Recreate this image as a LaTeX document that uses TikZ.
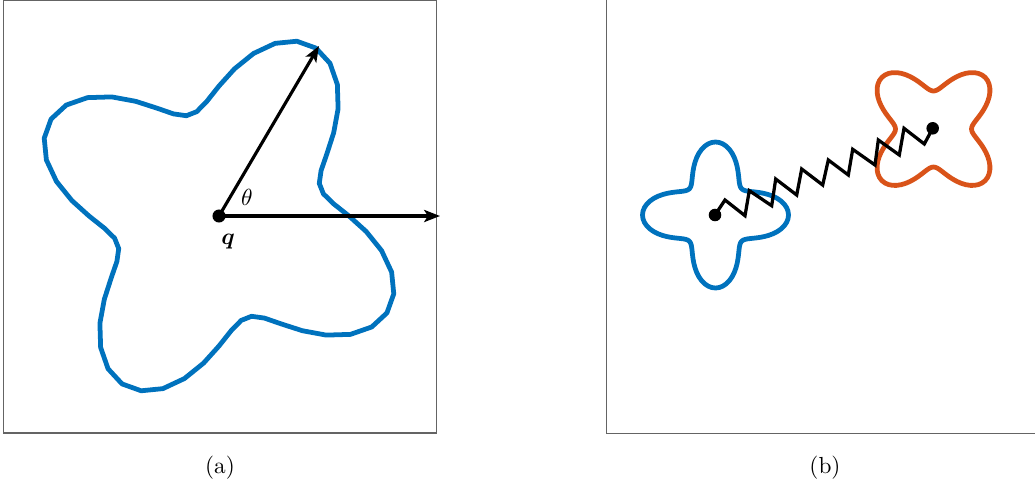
\documentclass[tikz,border=0pt]{standalone}
\usepackage{amsmath}
\usetikzlibrary{arrows.meta}
\definecolor{mblue}{RGB}{0,114,189}
\definecolor{morange}{RGB}{217,83,25}
\definecolor{framec}{RGB}{100,100,100}
\tikzset{
  frameline/.style={draw=framec, line width=0.55pt},
  blob/.style={line width=2.05pt, line join=round},
  vec/.style={line width=1.35pt, -{Stealth[length=6.8pt, width=5.2pt, inset=1.6pt]}},
  spring/.style={line width=1.4pt, line join=miter},
  dot/.style={circle, fill=black, inner sep=0pt, minimum size=5.6pt},
  sdot/.style={circle, fill=black, inner sep=0pt, minimum size=5.4pt},
  lbl/.style={inner sep=0pt}
}
\begin{document}
\begin{tikzpicture}[x=0.43pt, y=-0.43pt]
\useasboundingbox (0,0) rectangle (1035,491);
% ---------- panel (a) ----------
\draw[frameline] (3.3,0.6) rectangle (436.7,433);
\draw[blob, mblue] plot[domain=0:360, samples=61]
  ({219+(149.5+44.5*cos(4*(\x-61)))*cos(\x)}, {216-(149.5+44.5*cos(4*(\x-61)))*sin(\x)}) -- cycle;
\node[dot] (qa) at (219,216) {};
\coordinate (tipH) at (440,216);
\coordinate (tipU) at (319,46);
\draw[vec] (qa.center) -- (tipH);
\draw[vec] (qa.center) -- (tipU);
\node[lbl] (theta) at (247,197) {$\theta$};
\node[lbl] (qlbl) at (228,242) {$\boldsymbol{q}$};
\node[lbl] (capa) at (220,468) {(a)};
% ---------- panel (b) ----------
\draw[frameline] (606.7,0) -- (606.7,433.3) -- (1035,433.3);
\draw[blob, mblue] plot[domain=0:360, samples=121]
  ({715.5+(55+18*cos(4*\x))*cos(\x)}, {215-(55+18*cos(4*\x))*sin(\x)}) -- cycle;
\draw[blob, morange] plot[domain=0:360, samples=121]
  ({933.5+(55.5+17.5*cos(4*(\x-45)))*cos(\x)}, {129-(55.5+17.5*cos(4*(\x-45)))*sin(\x)}) -- cycle;
\node[sdot] (b1) at (715,215) {};
\node[sdot] (b2) at (932.7,128.3) {};
\draw[spring] (b1.center) -- (725,200) -- (745,215.7) -- (749.3,190.7) -- (771.7,205.7)
  -- (775.7,179) -- (796.7,195) -- (801.7,169) -- (822.7,185) -- (828.3,160)
  -- (848.3,175) -- (852.7,149.3) -- (875,165) -- (878.3,140) -- (899.3,155)
  -- (904,128.3) -- (924.3,144) -- (b2.center);
\node[lbl] (capb) at (825,468) {(b)};
\end{tikzpicture}
\end{document}
